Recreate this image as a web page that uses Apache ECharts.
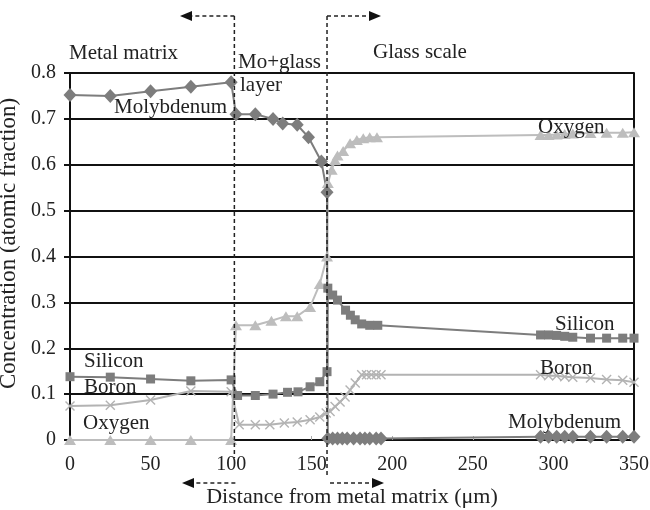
<!DOCTYPE html>
<html>
<head>
<meta charset="utf-8">
<script src="https://cdn.jsdelivr.net/npm/echarts@6/dist/echarts.min.js"></script>
<style>
  html, body { margin: 0; padding: 0; background: #fff; }
  #chart { width: 650px; height: 510px; }
</style>
</head>
<body>
<div id="chart"></div>
<script>
// Concentration profiles across the metal / Mo+glass / glass-scale interface
// Each series: [distance (µm), atomic fraction]
const molybdenum = [
  [0, 0.752], [25, 0.75], [50, 0.76], [75, 0.77], [100, 0.78],
  [103, 0.71], [115, 0.71], [126, 0.70], [132, 0.69], [141, 0.687], [148, 0.66], [156, 0.607], [159.5, 0.54],
  [160, 0.003], [163, 0.003], [166, 0.003], [169, 0.003], [172, 0.003], [176, 0.003], [180, 0.003],
  [183, 0.003], [186, 0.003], [190, 0.003], [193, 0.003],
  [292, 0.007], [297, 0.007], [302, 0.007], [307, 0.007], [312, 0.007], [323, 0.007], [333, 0.007], [343, 0.007], [350, 0.007]
];
const silicon = [
  [0, 0.138], [25, 0.137], [50, 0.133], [75, 0.129], [100, 0.131],
  [104, 0.097], [115, 0.097], [126, 0.10], [135, 0.104], [141.5, 0.105], [149, 0.116], [155, 0.127], [159.5, 0.149],
  [160, 0.331], [163, 0.316], [166, 0.305], [171, 0.283], [174, 0.272], [177, 0.262], [181, 0.253], [186, 0.25], [191, 0.25],
  [292, 0.229], [297, 0.229], [302, 0.228], [307, 0.226], [312, 0.224], [323, 0.222], [333, 0.222], [343, 0.222], [350, 0.222]
];
const boron = [
  [0, 0.074], [25, 0.076], [50, 0.087], [75, 0.107], [100, 0.105],
  [105, 0.033], [115, 0.033], [124, 0.033], [133, 0.037], [141, 0.039], [149, 0.044], [155, 0.05], [159, 0.059],
  [161.4, 0.062], [164.5, 0.073], [167.6, 0.083], [170.7, 0.094], [173.8, 0.109], [177, 0.124],
  [181, 0.142], [184, 0.142], [187, 0.142], [190, 0.142], [193, 0.142],
  [292, 0.142], [297, 0.14], [302, 0.14], [307, 0.138], [312, 0.137], [323, 0.135], [333, 0.132], [343, 0.13], [350, 0.126]
];
const oxygen = [
  [0, 0], [25, 0], [50, 0], [75, 0], [100, 0],
  [103, 0.25], [115, 0.25], [125, 0.26], [134, 0.27], [141, 0.27], [149, 0.29], [155, 0.34], [159.5, 0.40],
  [160, 0.56], [162.4, 0.589], [164.5, 0.61], [166, 0.62], [169.5, 0.63], [173.8, 0.647], [178, 0.654],
  [182, 0.658], [186, 0.66], [190.5, 0.66],
  [292, 0.665], [297, 0.665], [302, 0.666], [307, 0.667], [312, 0.668], [323, 0.669], [333, 0.67], [343, 0.67], [350, 0.671]
];

// Layer boundaries (µm): metal | Mo+glass | glass scale
const boundaries = [102, 159.5];

const xTicks = { min: 0, max: 350, step: 50 };
const yTicks = { min: 0, max: 0.8, step: 0.1 };

const FONT = '"Liberation Serif", "Times New Roman", serif';
const TXT = '#222';
const DARK = '#7d7d7d';
const LIGHT = '#bdbdbd';
const CROSS = 'path://M0,1 L1,0 L5,4 L9,0 L10,1 L6,5 L10,9 L9,10 L5,6 L1,10 L0,9 L4,5 Z';

const chart = echarts.init(document.getElementById('chart'), null, { renderer: 'canvas' });

function lineSeries(name, data, color, symbol, size) {
  return {
    name, type: 'line', data, symbol, symbolSize: size,
    showSymbol: true, animation: false,
    lineStyle: { color, width: 2 },
    itemStyle: { color },
    z: 3
  };
}

chart.setOption({
  backgroundColor: '#fff',
  animation: false,
  grid: { left: 70, right: 16, top: 73, bottom: 70, containLabel: false, outerBoundsMode: 'none' },
  xAxis: {
    type: 'value', min: xTicks.min, max: xTicks.max, interval: xTicks.step,
    name: 'Distance from metal matrix (μm)', nameLocation: 'middle', nameGap: 46,
    nameTextStyle: { fontFamily: FONT, fontSize: 22, color: TXT },
    axisLine: { lineStyle: { color: '#111', width: 2 } },
    axisTick: { show: true, inside: true, length: 4, lineStyle: { color: '#aaa' } },
    axisLabel: { fontFamily: FONT, fontSize: 20, color: TXT, margin: 15 },
    splitLine: { show: false }
  },
  yAxis: [{
    type: 'value', min: yTicks.min, max: yTicks.max, interval: yTicks.step,
    name: 'Concentration (atomic fraction)', nameLocation: 'middle', nameGap: 37, nameRotate: 90,
    nameTextStyle: { fontFamily: FONT, fontSize: 23, color: TXT, padding: [0, 0, 0, 26] },
    axisLine: { show: true, lineStyle: { color: '#111', width: 2 } },
    axisTick: { show: true, length: 6, lineStyle: { color: '#111', width: 2 } },
    axisLabel: { fontFamily: FONT, fontSize: 20, color: TXT, margin: 14 },
    splitLine: { show: true, lineStyle: { color: '#111', width: 2 } }
  }, {
    type: 'value', min: yTicks.min, max: yTicks.max, interval: yTicks.step, position: 'right',
    axisLine: { show: true, lineStyle: { color: '#111', width: 2 } },
    axisTick: { show: false }, axisLabel: { show: false }, splitLine: { show: false }
  }],
  series: [
    lineSeries('Oxygen', oxygen, LIGHT, 'triangle', [12, 10]),
    lineSeries('Boron', boron, '#b3b3b3', CROSS, 10),
    lineSeries('Silicon', silicon, DARK, 'rect', 9),
    lineSeries('Molybdenum', molybdenum, DARK, 'diamond', [13, 14])
  ]
});

// Annotations: layer boundaries, arrows and labels
const xA = chart.convertToPixel({ xAxisIndex: 0 }, boundaries[0]);
const xB = chart.convertToPixel({ xAxisIndex: 0 }, boundaries[1]);
const dash = { stroke: '#222', lineWidth: 1.5, lineDash: [4, 3] };
const topY = 16, botY = 483;

function dline(x1, y1, x2, y2) {
  return { type: 'line', shape: { x1, y1, x2, y2 }, style: dash, z: 10, silent: true };
}
function arrowHead(tipX, y, dir) {
  const len = 12, half = 5;
  return { type: 'polygon', shape: { points: [[tipX, y], [tipX - dir * len, y - half], [tipX - dir * len, y + half]] },
           style: { fill: '#111' }, z: 10, silent: true };
}
function label(text, x, y, align) {
  return { type: 'text', x, y, z: 11, silent: true,
           style: { text, fontFamily: FONT, fontSize: 21, fill: TXT, align: align || 'left', verticalAlign: 'middle' } };
}

chart.setOption({
  graphic: [
    dline(xA, topY, xA, 458),
    dline(xA, topY, 190, topY),
    arrowHead(180, topY, -1),
    dline(xB, topY, xB, 477),
    dline(xB, topY, 370, topY),
    arrowHead(381, topY, 1),
    dline(xA + 1, botY, 192, botY),
    arrowHead(182, botY, -1),
    dline(xB + 3, botY, 372, botY),
    arrowHead(384, botY, 1),

    label('Metal matrix', 69, 53),
    label('Mo+glass', 238, 62),
    label('layer', 240, 85),
    label('Glass scale', 373, 52),

    label('Molybdenum', 114, 107),
    label('Oxygen', 538, 127),
    label('Silicon', 555, 324),
    label('Boron', 540, 368),
    label('Molybdenum', 508, 422),
    label('Silicon', 84, 361),
    label('Boron', 84, 387),
    label('Oxygen', 83, 423)
  ]
});
</script>
</body>
</html>
